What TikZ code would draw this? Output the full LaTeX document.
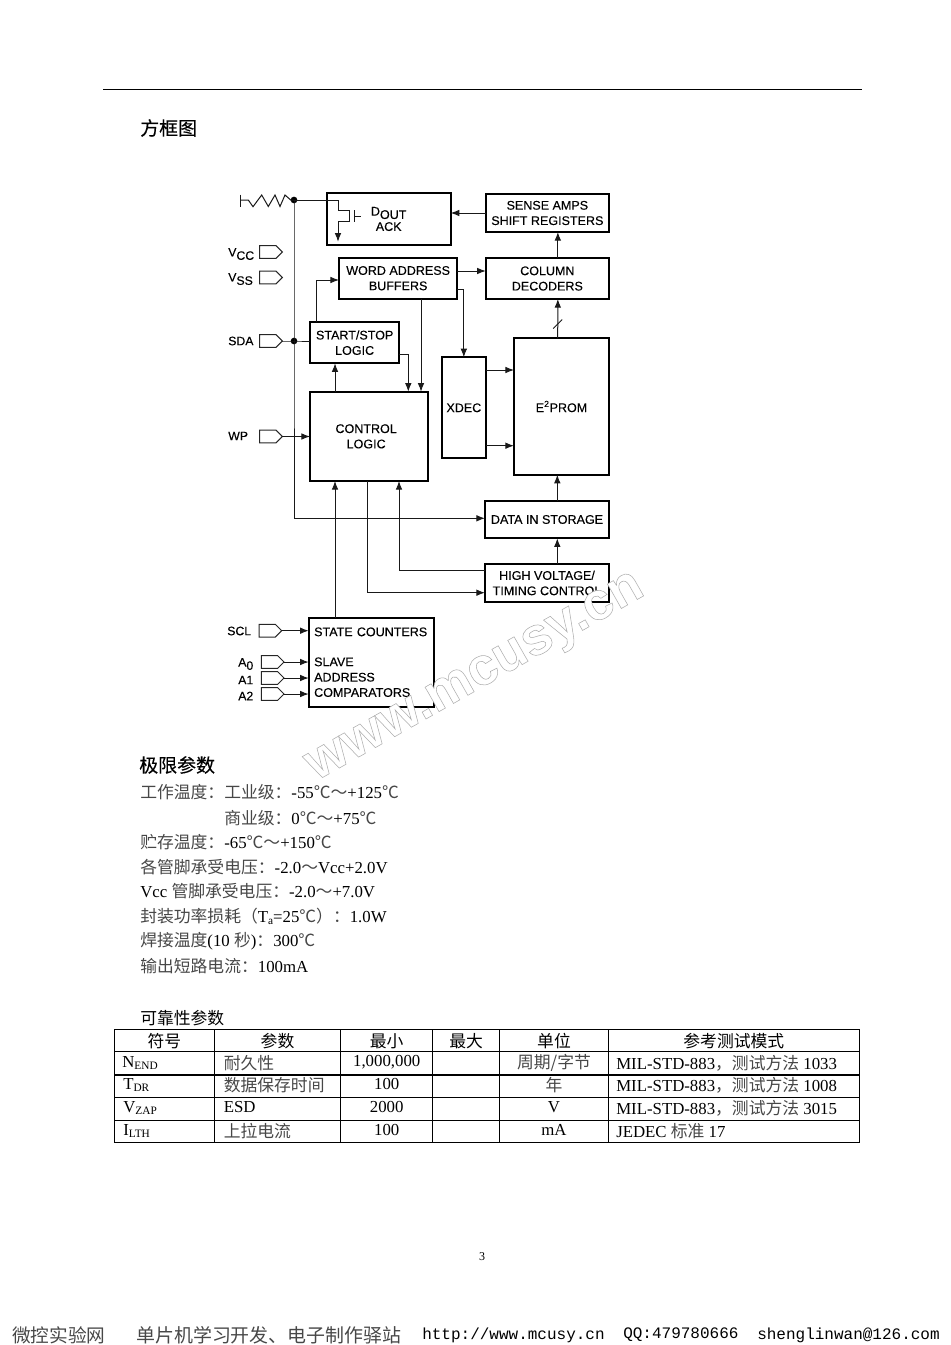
\documentclass[tikz,border=0pt]{standalone}
\usepackage{fontspec}
\setmainfont{Liberation Serif}
\setmonofont{Liberation Mono}
\newfontfamily\zhfont{Noto Sans CJK SC}
\newfontfamily\zhheavy[FakeBold=0.25]{Noto Sans CJK SC}
\newfontfamily\hvfont[FakeBold=0.2]{Liberation Sans}
\newfontfamily\markfont{Liberation Sans}
\usetikzlibrary{calc,arrows.meta,shapes.symbols}
\newcommand{\zh}[1]{{\color{black!72}\zhfont #1}}
\newcommand{\zhd}[1]{{\zhfont #1}}
\newcommand{\lowtxt}[2]{#1\raisebox{-2.5pt}{#2}}
\newcommand{\subtxt}[2]{#1\raisebox{-1.5pt}{\fontsize{8.5}{9}\selectfont #2}}
\tikzset{
	blockbox/.style={draw=black,line width=1.3pt,anchor=north west,inner sep=0pt,outer sep=0pt,align=center,font=\hvfont\fontsize{9.4}{11.5}\selectfont},
	blocksize/.style 2 args={minimum width=#1*0.75pt,minimum height=#2*0.75pt},
	pinbox/.style={draw=black!85,line width=0.75pt,signal,signal to=east,anchor=east,inner sep=0pt,outer sep=0pt,minimum width=17pt,minimum height=9.5pt},
	pinlabel/.style={anchor=west,inner sep=0pt,font=\hvfont\fontsize{9.2}{11}\selectfont},
	junction/.style={circle,fill=black,inner sep=0pt,minimum size=5pt},
	wire/.style={line width=0.75pt,black!90},
	flow/.style={wire,-{Latex[length=6.5pt,width=5pt]}},
	heading/.style={anchor=west,inner sep=0pt,font=\zhheavy\fontsize{14.2}{16}\selectfont},
	bodyline/.style={anchor=west,inner sep=0pt,font=\fontsize{12.6}{14}\selectfont},
	cellmid/.style={inner sep=0pt,font=\fontsize{12.6}{14}\selectfont},
	cellleft/.style={cellmid,anchor=west},
	tableline/.style={line width=0.8pt,black},
	footline/.style={anchor=west,inner sep=0pt,font=\fontsize{12}{14}\selectfont}
}
\begin{document}
\begin{tikzpicture}[x=0.75pt,y=-0.75pt]
	\useasboundingbox (0,0) rectangle (950,1345);

	% page rule and headings
	\draw[line width=0.7pt] (103,89) -- (862,89);
	\node[heading] (title) at (140,128) {方框图};

	% blocks
	\node[blockbox,blocksize={124}{52}] (dout) at (326.7,193) {\lowtxt{D}{OUT}\\ACK};
	\node[blockbox,blocksize={123.3}{38}] (sense) at (485.7,194) {SENSE AMPS\\SHIFT REGISTERS};
	\node[blockbox,blocksize={118.3}{41}] (word) at (339,257.7) {WORD ADDRESS\\BUFFERS};
	\node[blockbox,blocksize={123.3}{41}] (column) at (485.7,258) {COLUMN\\DECODERS};
	\node[blockbox,blocksize={89.3}{41.3}] (start) at (310,322) {START/STOP\\LOGIC};
	\node[blockbox,blocksize={118.3}{89.3}] (control) at (310,391.7) {CONTROL\hspace*{4.5pt}\\LOGIC\hspace*{4.5pt}};
	\node[blockbox,blocksize={44.3}{101}] (xdec) at (441.7,357.3) {XDEC};
	\node[blockbox,blocksize={95}{136.4}] (rom) at (514,338.3) {E\textsuperscript{2}PROM};
	\node[blockbox,blocksize={124}{37.6}] (datain) at (485,500.7) {\raisebox{-1.2pt}{DATA IN STORAGE}};
	\node[blockbox,blocksize={124}{38.6}] (high) at (485,563.7) {HIGH VOLTAGE/\\TIMING CONTROL};
	\node[blockbox,blocksize={125.6}{89},align=left,text width=86pt] (state) at (308.7,617.7) {STATE COUNTERS\\[11pt]SLAVE\\ADDRESS\\COMPARATORS};

	% pins
	\node[pinbox] (vccpin) at (282.3,252) {};
	\node[pinbox] (vsspin) at (282.3,277.5) {};
	\node[pinbox] (sdapin) at (282.3,341) {};
	\node[pinbox] (wppin) at (282.3,436.5) {};
	\node[pinbox] (sclpin) at (281.7,630.7) {};
	\node[pinbox] (azeropin) at (284,662) {};
	\node[pinbox] (aonepin) at (284,678) {};
	\node[pinbox] (atwopin) at (284,694) {};
	\node[pinlabel] (vcclabel) at (228,254) {\lowtxt{V}{CC}};
	\node[pinlabel] (vsslabel) at (228,279) {\lowtxt{V}{SS}};
	\node[pinlabel] (sdalabel) at (228,341) {SDA};
	\node[pinlabel] (wplabel) at (228,436) {WP};
	\node[pinlabel] (scllabel) at (227,631) {SCL};
	\node[pinlabel] (azerolabel) at (238,664) {\lowtxt{A}{0}};
	\node[pinlabel] (aonelabel) at (238,680) {A1};
	\node[pinlabel] (atwolabel) at (238,696) {A2};

	% pull-up and bus
	\node[junction] (topdot) at (294,200) {};
	\node[junction] (sdadot) at (294,341) {};
	\coordinate (barup) at (240.7,194.5);
	\coordinate (bardown) at (240.7,207);
	\coordinate (barmid) at (240.7,200);
	\coordinate (busturn) at (294,518.3);
	\draw[wire] (barup) -- (bardown);
	\draw[wire] (barmid) -- (248.3,200) -- (253,206.7) -- (261.7,195) -- (268.3,206.5) -- (275,195) -- (280,206.5) -- (285,195) -- (290.7,200) -- (topdot.center);
	\draw[wire] (topdot.center) -- (sdadot.center) -- (busturn);
	\draw[flow] (busturn) -- (busturn -| datain.west);
	\draw[wire] (sdapin.east) -- (sdadot.center) -- (sdadot.center -| start.west);

	% output transistor
	\coordinate (drain) at (338,200);
	\coordinate (fetup) at (349,210);
	\coordinate (fetdown) at (349,221.7);
	\coordinate (fetout) at (338,221.7);
	\coordinate (fetground) at (338,241.7);
	\coordinate (gateup) at (354,210);
	\coordinate (gatedown) at (354,222);
	\coordinate (gatemid) at (354,216);
	\coordinate (gatestub) at (361,216);
	\draw[wire] (topdot.center) -- (drain) -- (drain |- fetup) -- (fetup) -- (fetdown) -- (fetout);
	\draw[flow] (fetout) -- (fetground);
	\draw[wire] (gateup) -- (gatedown);
	\draw[wire] (gatemid) -- (gatestub);

	% connections between blocks
	\draw[flow] (sense.west) -- (sense.west -| dout.east);
	\draw[flow] ($(column.north)+(10.5,0)$) -- ($(sense.south)+(10.5,0)$);
	\draw[flow] (word.east |- 0,271) -- (column.west |- 0,271);
	\coordinate (slash) at (557.7,324);
	\draw[flow] ($(rom.north)+(-3.8,0)$) -- ($(column.south)+(10.5,0)$);
	\draw[wire] ($(slash)+(-4.5,4.5)$) -- ($(slash)+(4.5,-4.5)$);
	\draw[flow] (word.east |- 0,289.3) -| (xdec.north |- 0,289.3) -- (xdec.north);
	\draw[flow] (421,298.7) -- (421,391.7);
	\draw[flow] (start.east |- 0,354) -| (408.3,391.7);
	\draw[flow] (316.7,322) |- (word.west |- 0,280);
	\draw[flow] (335,391.7) -- (335,363.3);
	\draw[flow] (wppin.east) -- (wppin.east -| control.west);
	\draw[flow] (xdec.east |- 0,370) -- (rom.west |- 0,370);
	\draw[flow] (xdec.east |- 0,445.7) -- (rom.west |- 0,445.7);
	\draw[flow] (335,617.7) -- (335,481);
	\draw[flow] (367,481) |- (high.west |- 0,592.7);
	\draw[flow] (high.west |- 0,570) -| (399,481);
	\draw[flow] (557.3,563.7) -- (557.3,538.3);
	\draw[flow] (557.3,500.7) -- (557.3,474.7);
	\draw[flow] (sclpin.east) -- (sclpin.east -| state.west);
	\draw[flow] (azeropin.east) -- (azeropin.east -| state.west);
	\draw[flow] (aonepin.east) -- (aonepin.east -| state.west);
	\draw[flow] (atwopin.east) -- (atwopin.east -| state.west);

	% absolute maximum ratings
	\node[heading] (limits) at (139,765) {极限参数};
	\node[bodyline] (lineone) at (140,792.5) {\zh{工作温度：工业级：}-55\zh{℃～}+125\zh{℃}};
	\node[bodyline] (linetwo) at (224,818) {\zh{商业级：}0\zh{℃～}+75\zh{℃}};
	\node[bodyline] (linethree) at (140,842) {\zh{贮存温度：}-65\zh{℃～}+150\zh{℃}};
	\node[bodyline] (linefour) at (140,867) {\zh{各管脚承受电压：}-2.0\zh{～}Vcc+2.0V};
	\node[bodyline] (linefive) at (140,891.5) {Vcc \zh{管脚承受电压：}-2.0\zh{～}+7.0V};
	\node[bodyline] (linesix) at (140,916.5) {\zh{封装功率损耗（}\subtxt{T}{a}=25\zh{℃）：}1.0W};
	\node[bodyline] (lineseven) at (140,941) {\zh{焊接温度}(10 \zh{秒})\zh{：}300\zh{℃}};
	\node[bodyline] (lineeight) at (140,966) {\zh{输出短路电流：}100mA};

	% reliability table
	\node[bodyline] (relhead) at (140,1018) {\zhd{可靠性参数}};
	\draw[tableline] (114.3,1029.3) rectangle (859.3,1142.3);
	\draw[tableline] (114.3,1051.7) -- (859.3,1051.7);
	\draw[tableline] (114.3,1075) -- (859.3,1075);
	\draw[tableline] (114.3,1097.3) -- (859.3,1097.3);
	\draw[tableline] (114.3,1120.3) -- (859.3,1120.3);
	\draw[tableline] (214.3,1029.3) -- (214.3,1142.3);
	\draw[tableline] (340.7,1029.3) -- (340.7,1142.3);
	\draw[tableline] (432.7,1029.3) -- (432.7,1142.3);
	\draw[tableline] (499.7,1029.3) -- (499.7,1142.3);
	\draw[tableline] (608.3,1029.3) -- (608.3,1142.3);
	\node[cellmid] (headsym) at (164.3,1041) {\zhd{符号}};
	\node[cellmid] (headpar) at (277.5,1041) {\zhd{参数}};
	\node[cellmid] (headmin) at (386.7,1041) {\zhd{最小}};
	\node[cellmid] (headmax) at (466.2,1041) {\zhd{最大}};
	\node[cellmid] (headunit) at (554,1041) {\zhd{单位}};
	\node[cellmid] (headtest) at (733.8,1041) {\zhd{参考测试模式}};
	\node[cellleft] (symend) at (122,1063) {\subtxt{N}{END}};
	\node[cellleft] (parend) at (223.5,1063) {\zh{耐久性}};
	\node[cellmid] (minend) at (386.7,1062) {1,000,000};
	\node[cellmid] (unitend) at (554,1063) {\zh{周期/字节}};
	\node[cellleft] (testend) at (616,1063) {MIL-STD-883\zh{，测试方法} 1033};
	\node[cellleft] (symdr) at (123,1085) {\subtxt{T}{DR}};
	\node[cellleft] (pardr) at (223.5,1085) {\zh{数据保存时间}};
	\node[cellmid] (mindr) at (386.7,1084) {100};
	\node[cellmid] (unitdr) at (554,1085) {\zh{年}};
	\node[cellleft] (testdr) at (616,1085.5) {MIL-STD-883\zh{，测试方法} 1008};
	\node[cellleft] (symzap) at (123,1108) {\subtxt{V}{ZAP}};
	\node[cellleft] (parzap) at (223.5,1107) {ESD};
	\node[cellmid] (minzap) at (386.7,1107) {2000};
	\node[cellmid] (unitzap) at (554,1107) {V};
	\node[cellleft] (testzap) at (616,1108.5) {MIL-STD-883\zh{，测试方法} 3015};
	\node[cellleft] (symlth) at (123,1131) {\subtxt{I}{LTH}};
	\node[cellleft] (parlth) at (223.5,1131) {\zh{上拉电流}};
	\node[cellmid] (minlth) at (386.7,1129.5) {100};
	\node[cellmid] (unitlth) at (554,1130) {mA};
	\node[cellleft] (testlth) at (616,1131) {JEDEC \zh{标准} 17};

	% page number and footer
	\node[inner sep=0pt,font=\fontsize{9}{11}\selectfont] (pagenum) at (482,1257) {3};
	\node[footline,font=\fontsize{14}{16}\selectfont] (footsite) at (12,1335) {\zh{微控实验网}};
	\node[footline,font=\fontsize{14.2}{16}\selectfont] (footsub) at (136,1335) {\zh{单片机学习开发、电子制作驿站}};
	\node[footline] (footurl) at (422,1335) {\ttfamily http://www.mcusy.cn};
	\node[footline] (footqq) at (623,1335) {\ttfamily QQ:479780666};
	\node[footline] (footmail) at (757,1335) {\ttfamily shenglinwan@126.com};

	% watermark on top
	\node[rotate=29.5,inner sep=0pt,text=white,font=\markfont\bfseries\fontsize{40}{48}\selectfont] (mark) at (477,680) {\special{pdf:code 2 Tr 0.4 w 0.68 G}www.mcusy.cn\special{pdf:code 0 Tr}};
\end{tikzpicture}
\end{document}
